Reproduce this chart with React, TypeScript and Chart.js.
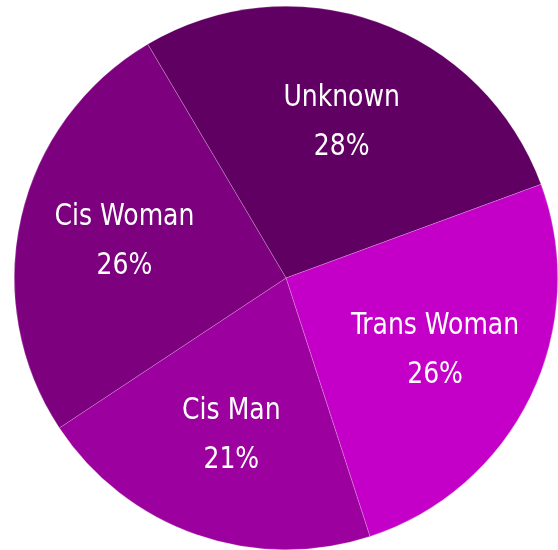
import React, { useEffect, useRef } from "react";
import { Chart, registerables } from "chart.js";

Chart.register(...registerables);

const categories = ["Unknown", "Trans Woman", "Cis Man", "Cis Woman"];
const values = [27.9, 25.6, 20.7, 25.8];
const colors = ["#610063", "#c400c8", "#9c009e", "#7d007f"];

const labelPlugin = {
  id: "sliceLabels",
  afterDatasetsDraw(chart: any) {
    const ctx = chart.ctx;
    const meta = chart.getDatasetMeta(0);
    const total = values.reduce((a, b) => a + b, 0);
    const sx = 0.9;
    meta.data.forEach((arc: any, i: number) => {
      const p = arc.getProps(["x", "y", "startAngle", "endAngle", "outerRadius"], true);
      const mid = (p.startAngle + p.endAngle) / 2;
      const r = p.outerRadius * 0.61;
      const x = p.x + Math.cos(mid) * r;
      const y = p.y + Math.sin(mid) * r;
      const pct = Math.round((values[i] / total) * 100) + "%";
      ctx.save();
      ctx.translate(x, y);
      ctx.scale(sx, 1);
      ctx.fillStyle = "#ffffff";
      ctx.textAlign = "center";
      ctx.textBaseline = "middle";
      ctx.font = '31px "DejaVu Sans Condensed", "DejaVu Sans", sans-serif';
      ctx.fillText(categories[i], 0, -24);
      ctx.fillText(pct, 0, 25);
      ctx.restore();
    });
  },
};

export default function App() {
  const ref = useRef<HTMLCanvasElement>(null);
  useEffect(() => {
    document.body.style.margin = "0";
    const chart = new Chart(ref.current!, {
      type: "pie",
      data: {
        labels: categories,
        datasets: [
          {
            data: values,
            backgroundColor: colors,
            borderColor: "rgba(255,255,255,0.35)",
            borderWidth: 0.6,
          },
        ],
      },
      options: {
        animation: false,
        responsive: false,
        rotation: -30.6,
        layout: { padding: { left: 14, right: 0, top: 6, bottom: 0 } },
        plugins: { legend: { display: false }, tooltip: { enabled: false } },
      },
      plugins: [labelPlugin],
    });
    return () => chart.destroy();
  }, []);
  return (
    <div style={{ width: 558, height: 550 }}>
      <canvas ref={ref} width={558} height={550} />
    </div>
  );
}
